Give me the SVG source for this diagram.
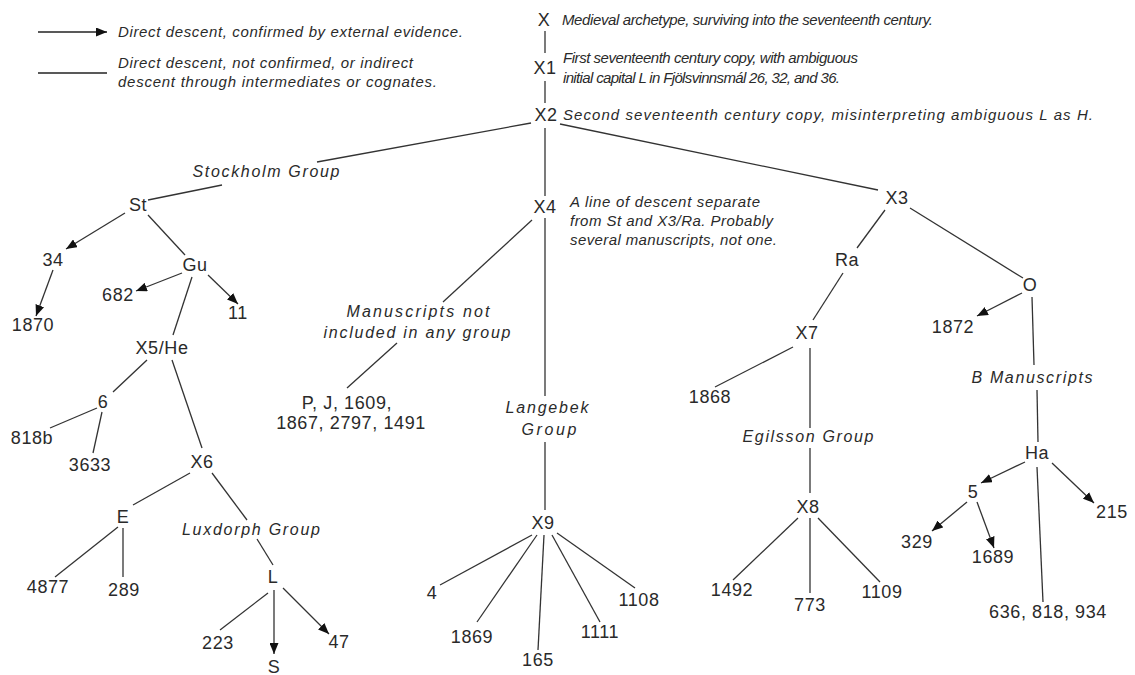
<svg xmlns="http://www.w3.org/2000/svg" width="1135" height="675" viewBox="0 0 1135 675">
<style>
.n{font-family:"Liberation Sans",Arial,sans-serif;font-size:18px;fill:#2a2a2a;text-anchor:middle;letter-spacing:0.6px}
.i{font-family:"Liberation Sans",Arial,sans-serif;font-size:15px;font-style:italic;fill:#2a2a2a}
.c{text-anchor:middle;font-size:16px}
.e line,.e polyline{stroke:#333;stroke-width:1.3;fill:none}
.a{marker-end:url(#ah)}
</style>
<defs>
<marker id="ah" markerUnits="userSpaceOnUse" markerWidth="11" markerHeight="9" refX="11" refY="4.5" orient="auto">
<path d="M0,0 L11,4.5 L0,9 z" fill="#111"/>
</marker>
</defs>
<rect width="1135" height="675" fill="#fff"/>
<g id="legend">
<line x1="38" y1="32" x2="107" y2="32" stroke="#222" stroke-width="1.6" marker-end="url(#ah)"/>
<text class="i" x="118" y="37" textLength="345" lengthAdjust="spacing">Direct descent, confirmed by external evidence.</text>
<line x1="38" y1="73" x2="107" y2="73" stroke="#222" stroke-width="1.6"/>
<text class="i" x="118" y="68" textLength="295" lengthAdjust="spacing">Direct descent, not confirmed, or indirect</text>
<text class="i" x="118" y="87" textLength="319" lengthAdjust="spacing">descent through intermediates or cognates.</text>
</g>
<g id="notes">
<text class="i" x="562" y="25" textLength="371" lengthAdjust="spacing">Medieval archetype, surviving into the seventeenth century.</text>
<text class="i" x="563" y="63" textLength="295" lengthAdjust="spacing">First seventeenth century copy, with ambiguous</text>
<text class="i" x="563" y="83" textLength="277" lengthAdjust="spacing">initial capital L in Fjölsvinnsmál 26, 32, and 36.</text>
<text class="i" x="563" y="120" textLength="530" lengthAdjust="spacing">Second seventeenth century copy, misinterpreting ambiguous L as H.</text>
<text class="i" x="570" y="207" textLength="190" lengthAdjust="spacing">A line of descent separate</text>
<text class="i" x="570" y="226" textLength="203" lengthAdjust="spacing">from St and X3/Ra. Probably</text>
<text class="i" x="570" y="245" textLength="207" lengthAdjust="spacing">several manuscripts, not one.</text>
</g>
<g id="group-labels">
<text class="i c" x="266" y="177" textLength="147" lengthAdjust="spacing">Stockholm Group</text>
<text class="i c" x="418" y="317" textLength="143" lengthAdjust="spacing">Manuscripts not</text>
<text class="i c" x="417" y="338" textLength="187" lengthAdjust="spacing">included in any group</text>
<text class="i c" x="547" y="413" textLength="83" lengthAdjust="spacing">Langebek</text>
<text class="i c" x="549" y="435" textLength="55" lengthAdjust="spacing">Group</text>
<text class="i c" x="251" y="535" textLength="138" lengthAdjust="spacing">Luxdorph Group</text>
<text class="i c" x="808" y="442" textLength="131" lengthAdjust="spacing">Egilsson Group</text>
<text class="i c" x="1032" y="383" textLength="121" lengthAdjust="spacing">B Manuscripts</text>
</g>
<g id="connectors" class="e">
<line x1="545" y1="31" x2="545" y2="53"/>
<line x1="545" y1="81" x2="545" y2="103"/>
<line x1="531" y1="123" x2="317" y2="162"/>
<line x1="222" y1="185" x2="148" y2="200"/>
<line x1="545" y1="128" x2="545" y2="196"/>
<line x1="545" y1="218" x2="545" y2="396"/>
<line x1="545" y1="442" x2="545" y2="510"/>
<line x1="560" y1="124" x2="878" y2="190"/>
<line class="a" x1="125" y1="213" x2="66" y2="249"/>
<line class="a" x1="53" y1="270" x2="36" y2="316"/>
<line x1="148" y1="215" x2="185" y2="255"/>
<line class="a" x1="182" y1="273" x2="136" y2="291"/>
<line class="a" x1="208" y1="275" x2="238" y2="304"/>
<line x1="192" y1="277" x2="173" y2="335"/>
<line x1="147" y1="360" x2="113" y2="392"/>
<line x1="97" y1="408" x2="50" y2="428"/>
<line x1="102" y1="412" x2="93" y2="453"/>
<line x1="172" y1="360" x2="202" y2="448"/>
<line x1="190" y1="473" x2="133" y2="505"/>
<line x1="212" y1="473" x2="247" y2="520"/>
<line x1="257" y1="539" x2="273" y2="565"/>
<line x1="118" y1="527" x2="55" y2="577"/>
<line x1="123" y1="528" x2="123" y2="577"/>
<line x1="268" y1="593" x2="220" y2="630"/>
<line class="a" x1="274" y1="590" x2="274" y2="654"/>
<line class="a" x1="283" y1="588" x2="329" y2="634"/>
<line x1="532" y1="220" x2="443" y2="302"/>
<line x1="397" y1="343" x2="347" y2="388"/>
<line x1="532" y1="535" x2="440" y2="585"/>
<line x1="537" y1="535" x2="477" y2="622"/>
<line x1="544" y1="535" x2="538" y2="650"/>
<line x1="552" y1="535" x2="600" y2="622"/>
<line x1="557" y1="533" x2="635" y2="588"/>
<line x1="885" y1="210" x2="857" y2="248"/>
<line x1="843" y1="273" x2="813" y2="320"/>
<line x1="793" y1="347" x2="715" y2="387"/>
<line x1="810" y1="348" x2="810" y2="428"/>
<line x1="810" y1="448" x2="810" y2="493"/>
<line x1="798" y1="518" x2="733" y2="580"/>
<line x1="810" y1="518" x2="810" y2="593"/>
<line x1="818" y1="518" x2="880" y2="582"/>
<line x1="910" y1="208" x2="1023" y2="278"/>
<line class="a" x1="1022" y1="293" x2="977" y2="316"/>
<line x1="1032" y1="297" x2="1034" y2="365"/>
<line x1="1037" y1="390" x2="1038" y2="442"/>
<line class="a" x1="1025" y1="462" x2="981" y2="483"/>
<line class="a" x1="1052" y1="463" x2="1094" y2="503"/>
<line x1="1037" y1="467" x2="1043" y2="602"/>
<line class="a" x1="967" y1="502" x2="932" y2="531"/>
<line class="a" x1="977" y1="502" x2="994" y2="548"/>
</g>
<g id="n-X"><text class="n" x="544" y="26">X</text></g>
<g id="n-X1"><text class="n" x="545" y="74">X1</text></g>
<g id="n-X2"><text class="n" x="546" y="121">X2</text></g>
<g id="n-St"><text class="n" x="138" y="211">St</text></g>
<g id="n-34"><text class="n" x="53" y="266">34</text></g>
<g id="n-1870"><text class="n" x="33" y="331">1870</text></g>
<g id="n-Gu"><text class="n" x="195" y="271">Gu</text></g>
<g id="n-682"><text class="n" x="118" y="301">682</text></g>
<g id="n-11"><text class="n" x="238" y="319">11</text></g>
<g id="n-X5He"><text class="n" x="162" y="354">X5/He</text></g>
<g id="n-6"><text class="n" x="103" y="408">6</text></g>
<g id="n-818b"><text class="n" x="32" y="444">818b</text></g>
<g id="n-3633"><text class="n" x="90" y="471">3633</text></g>
<g id="n-X6"><text class="n" x="202" y="468">X6</text></g>
<g id="n-E"><text class="n" x="123" y="523">E</text></g>
<g id="n-L"><text class="n" x="273" y="583">L</text></g>
<g id="n-4877"><text class="n" x="48" y="593">4877</text></g>
<g id="n-289"><text class="n" x="124" y="596">289</text></g>
<g id="n-223"><text class="n" x="218" y="649">223</text></g>
<g id="n-S"><text class="n" x="274" y="673">S</text></g>
<g id="n-47"><text class="n" x="339" y="648">47</text></g>
<g id="n-X4"><text class="n" x="545" y="213">X4</text></g>
<g id="n-PJ"><text class="n" x="347" y="409">P, J, 1609,</text><text class="n" x="351" y="429">1867, 2797, 1491</text></g>
<g id="n-X9"><text class="n" x="543" y="529">X9</text></g>
<g id="n-4"><text class="n" x="432" y="599">4</text></g>
<g id="n-1869"><text class="n" x="472" y="643">1869</text></g>
<g id="n-165"><text class="n" x="538" y="666">165</text></g>
<g id="n-1111"><text class="n" x="600" y="638">1111</text></g>
<g id="n-1108"><text class="n" x="639" y="606">1108</text></g>
<g id="n-X3"><text class="n" x="897" y="204">X3</text></g>
<g id="n-Ra"><text class="n" x="847" y="266">Ra</text></g>
<g id="n-X7"><text class="n" x="807" y="339">X7</text></g>
<g id="n-1868"><text class="n" x="710" y="403">1868</text></g>
<g id="n-X8"><text class="n" x="808" y="513">X8</text></g>
<g id="n-1492"><text class="n" x="732" y="596">1492</text></g>
<g id="n-773"><text class="n" x="810" y="611">773</text></g>
<g id="n-1109"><text class="n" x="882" y="598">1109</text></g>
<g id="n-O"><text class="n" x="1030" y="291">O</text></g>
<g id="n-1872"><text class="n" x="953" y="333">1872</text></g>
<g id="n-Ha"><text class="n" x="1037" y="459">Ha</text></g>
<g id="n-5"><text class="n" x="973" y="498">5</text></g>
<g id="n-215"><text class="n" x="1112" y="518">215</text></g>
<g id="n-636"><text class="n" x="1048" y="618">636, 818, 934</text></g>
<g id="n-329"><text class="n" x="917" y="548">329</text></g>
<g id="n-1689"><text class="n" x="993" y="563">1689</text></g>
</svg>
